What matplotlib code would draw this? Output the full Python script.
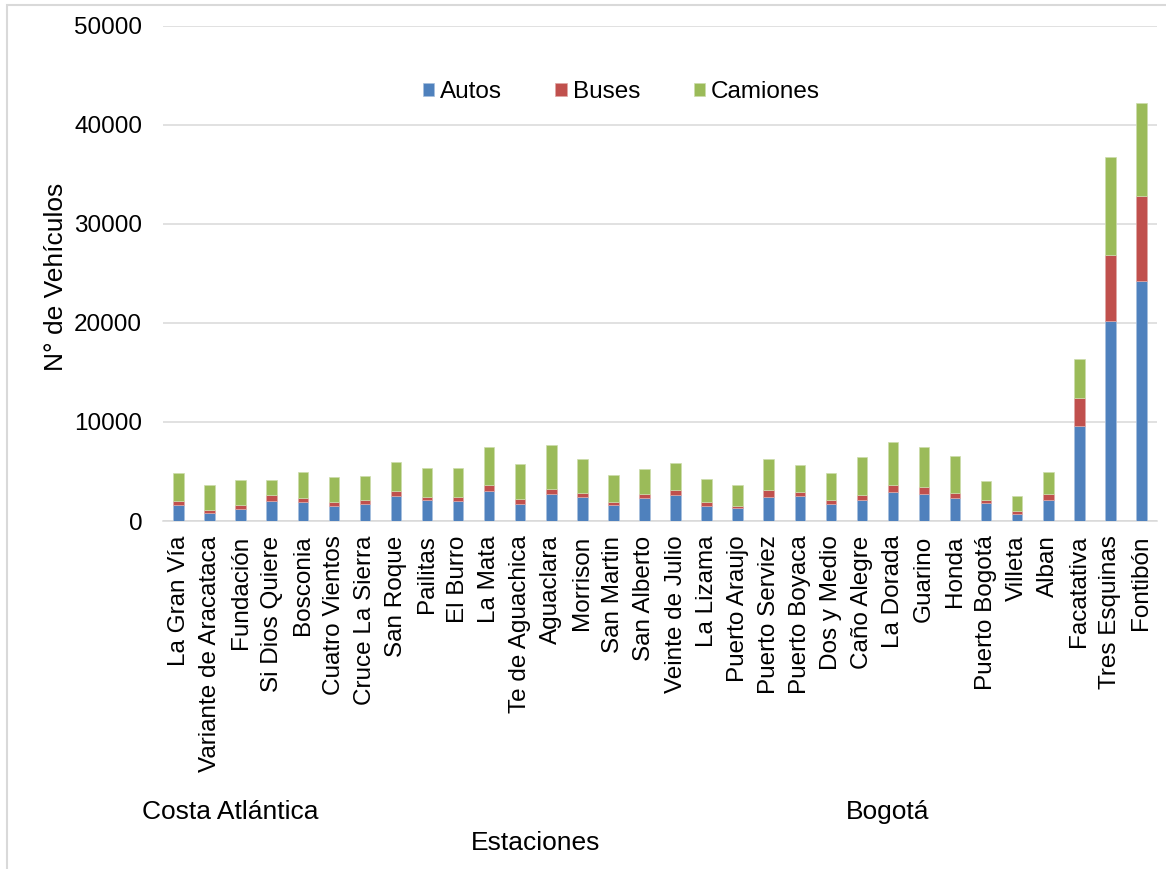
import matplotlib.pyplot as plt
from matplotlib.patches import Rectangle
import numpy as np

plt.rcParams['font.family'] = ['Liberation Sans', 'DejaVu Sans']

estaciones = ["La Gran Vía", "Variante de Aracataca", "Fundación", "Si Dios Quiere",
              "Bosconia", "Cuatro Vientos", "Cruce La Sierra", "San Roque", "Pailitas",
              "El Burro", "La Mata", "Te de Aguachica", "Aguaclara", "Morrison",
              "San Martin", "San Alberto", "Veinte de Julio", "La Lizama", "Puerto Araujo",
              "Puerto Serviez", "Puerto Boyaca", "Dos y Medio", "Caño Alegre", "La Dorada",
              "Guarino", "Honda", "Puerto Bogotá", "Villeta", "Alban", "Facatativa",
              "Tres Esquinas", "Fontibón"]

autos = [1600, 800, 1200, 2000, 1900, 1500, 1750, 2500, 2100, 2000,
         3050, 1750, 2750, 2400, 1650, 2330, 2600, 1550, 1350, 2450,
         2530, 1750, 2150, 2970, 2770, 2290, 1860, 680, 2160, 9630,
         20200, 24280]
buses = [460, 270, 380, 620, 430, 380, 400, 500, 350, 430,
         570, 430, 470, 400, 240, 400, 500, 340, 200, 680,
         400, 400, 470, 670, 660, 540, 300, 300, 610, 2790,
         6640, 8550]
camiones = [2830, 2530, 2600, 1550, 2600, 2600, 2350, 2980, 2950, 2900,
            3850, 3550, 4450, 3500, 2760, 2520, 2730, 2360, 2120, 3100,
            2770, 2700, 3880, 4380, 4080, 3700, 1920, 1580, 2150, 3980,
            9930, 9390]

grupos = ["Costa Atlántica", "Bogotá"]

W, H = 1166, 869
fig = plt.figure(figsize=(W / 100, H / 100), dpi=100)
ax = fig.add_axes([163 / W, 1 - 521 / H, 994 / W, 495 / H])

x = np.arange(len(estaciones))
a = np.array(autos)
b = np.array(buses)
c = np.array(camiones)
ancho = 0.34
ax.bar(x, a, ancho, color="#4F81BD", edgecolor="#A7C0DE", linewidth=0.5, label="Autos", zorder=3)
ax.bar(x, b, ancho, bottom=a, color="#C0504D", edgecolor="#DFA8A6", linewidth=0.5, label="Buses", zorder=3)
ax.bar(x, c, ancho, bottom=a + b, color="#9BBB59", edgecolor="#CDDDAC", linewidth=0.5, label="Camiones", zorder=3)

ax.set_xlim(-0.5, len(estaciones) - 0.5)
ax.set_ylim(0, 50000)
ax.set_yticks(np.arange(0, 50001, 10000))
ax.yaxis.grid(True, color="#D9D9D9", linewidth=1.1, zorder=0)
ax.set_axisbelow(True)
for s in ["top", "right", "left"]:
    ax.spines[s].set_visible(False)
ax.spines["bottom"].set_color("#D9D9D9")
ax.spines["bottom"].set_linewidth(1.1)

ax.set_xticks(x)
ax.set_xticklabels(estaciones, rotation=90, fontsize=17.5)
ax.tick_params(axis="x", length=0, pad=10.5)
ax.tick_params(axis="y", length=0, pad=15, labelsize=17.5)

ax.legend(loc="center", bbox_to_anchor=(0.461, 0.867), ncol=3, frameon=False,
          fontsize=17.5, handlelength=0.46, handleheight=0.46, handletextpad=0.25,
          columnspacing=2.2, borderpad=0)

fig.text(63 / W, 1 - 277 / H, "N° de Vehículos", rotation=90, rotation_mode="anchor",
         ha="center", va="baseline", fontsize=19)
fig.text(230 / W, 1 - 819 / H, grupos[0], ha="center", va="baseline", fontsize=19)
fig.text(888 / W, 1 - 819 / H, grupos[1], ha="center", va="baseline", fontsize=19)
fig.text(536 / W, 1 - 850 / H, "Estaciones", ha="center", va="baseline", fontsize=19)

# marco gris del área del gráfico
fig.patches.append(Rectangle((7 / W, -0.1), 1.2, 1.1 - 5 / H, transform=fig.transFigure,
                             fill=False, edgecolor="#D9D9D9", linewidth=1.5))

fig.savefig("out.png", dpi=100)
